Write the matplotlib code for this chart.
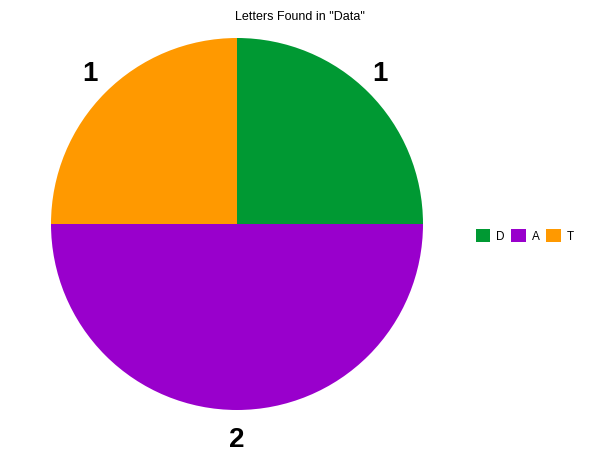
import matplotlib
matplotlib.use("Agg")
import matplotlib.pyplot as plt
from matplotlib.patches import Patch

plt.rcParams['font.family'] = ['Liberation Sans', 'DejaVu Sans']

# Data
letters = ["D", "A", "T"]
counts = [1, 2, 1]
colors = ["#009933", "#9900cc", "#ff9900"]
title = 'Letters Found in "Data"'

W, H = 600, 463
fig = plt.figure(figsize=(W / 100, H / 100), dpi=100)

# pie centre ~ (237, 224) px, radius ~186 px
cx, cy, r = 237, 224, 186
ax = fig.add_axes([(cx - r) / W, (H - cy - r) / H, 2 * r / W, 2 * r / H])

wedges, texts = ax.pie(counts, colors=colors, startangle=90, counterclock=False,
                       labels=[str(c) for c in counts], labeldistance=1.13,
                       textprops=dict(fontsize=20, fontweight='bold', color='black',
                                      ha='center', va='center'),
                       wedgeprops=dict(linewidth=0))
# nudge labels a little, as in the reference
texts[0].set_position((texts[0].get_position()[0] - 0.03, texts[0].get_position()[1] + 0.01))
texts[1].set_position((texts[1].get_position()[0], texts[1].get_position()[1] - 0.03))
texts[2].set_position((texts[2].get_position()[0] + 0.01, texts[2].get_position()[1] + 0.01))
ax.set_xlim(-1, 1)
ax.set_ylim(-1, 1)
ax.set_aspect('equal')
ax.axis('off')

fig.text(0.5, 1 - 17 / H, title, ha='center', va='center', fontsize=9)

handles = [Patch(facecolor=c, edgecolor='none', label=l) for c, l in zip(colors, letters)]
fig.legend(handles=handles, ncol=3, loc='center left',
           bbox_to_anchor=(471 / W, 1 - 236 / H), frameon=False,
           handlelength=1.25, handleheight=1.25, handletextpad=0.5,
           columnspacing=0.55, fontsize=8.5, borderaxespad=0)

fig.savefig("out.png", dpi=100)
